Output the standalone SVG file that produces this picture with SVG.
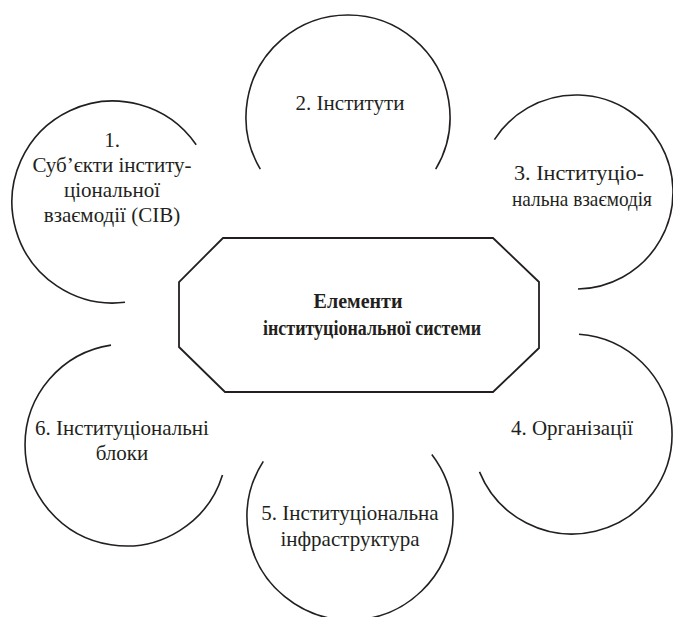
<svg xmlns="http://www.w3.org/2000/svg" width="673" height="617" viewBox="0 0 673 617">
<style>
.arc{fill:none;stroke:#231f20;stroke-width:1.6}
.oct{fill:none;stroke:#231f20;stroke-width:1.8;stroke-linejoin:miter}
.t{font-size:21px;fill:#231f20;text-anchor:middle}
.b{font-weight:bold;font-size:20px}
</style>
<rect width="673" height="617" fill="#fff"/>
<g font-family="'Liberation Serif', 'DejaVu Serif', serif">
<g id="center">
<polygon class="oct" points="223,238 493,238 539,282 539,348 493,392 225,392 179,347 179,282"/>
<text class="t b" x="358" y="308">Елементи</text>
<text class="t b" x="372" y="335" textLength="218" lengthAdjust="spacingAndGlyphs">інституціональної системи</text>
</g>
<g id="n1">
<path class="arc" d="M196.2,144.8 A101,101 0 1 0 125,302.3"/>
<text class="t" x="112" y="147">1.</text>
<text class="t" x="112" y="172">Суб’єкти інститу-</text>
<text class="t" x="112" y="197">ціональної</text>
<text class="t" x="112" y="222">взаємодії (СІВ)</text>
</g>
<g id="n2">
<path class="arc" d="M435.7,169.1 A102,102 0 1 0 260.3,169.1"/>
<text class="t" x="350" y="110">2. Інститути</text>
</g>
<g id="n3">
<path class="arc" d="M494.4,139.6 A97,97 0 1 1 578,289"/>
<text class="t" x="579" y="180" textLength="130" lengthAdjust="spacingAndGlyphs">3. Інституціо-</text>
<text class="t" x="582" y="206" textLength="140" lengthAdjust="spacingAndGlyphs">нальна взаємодія</text>
</g>
<g id="n4">
<path class="arc" d="M579,334.2 A100,100 0 1 1 479.5,471.9"/>
<text class="t" x="572" y="435">4. Організації</text>
</g>
<g id="n5">
<path class="arc" d="M431.8,454.4 A103,103 0 1 1 263.3,461.4"/>
<text class="t" x="350" y="520">5. Інституціональна</text>
<text class="t" x="350" y="546">інфраструктура</text>
</g>
<g id="n6">
<path class="arc" d="M111,345.1 A101,101 0 1 0 222.5,474.9"/>
<text class="t" x="122" y="435">6. Інституціональні</text>
<text class="t" x="122" y="460">блоки</text>
</g>
</g>
<g id="connectors"></g>
</svg>
